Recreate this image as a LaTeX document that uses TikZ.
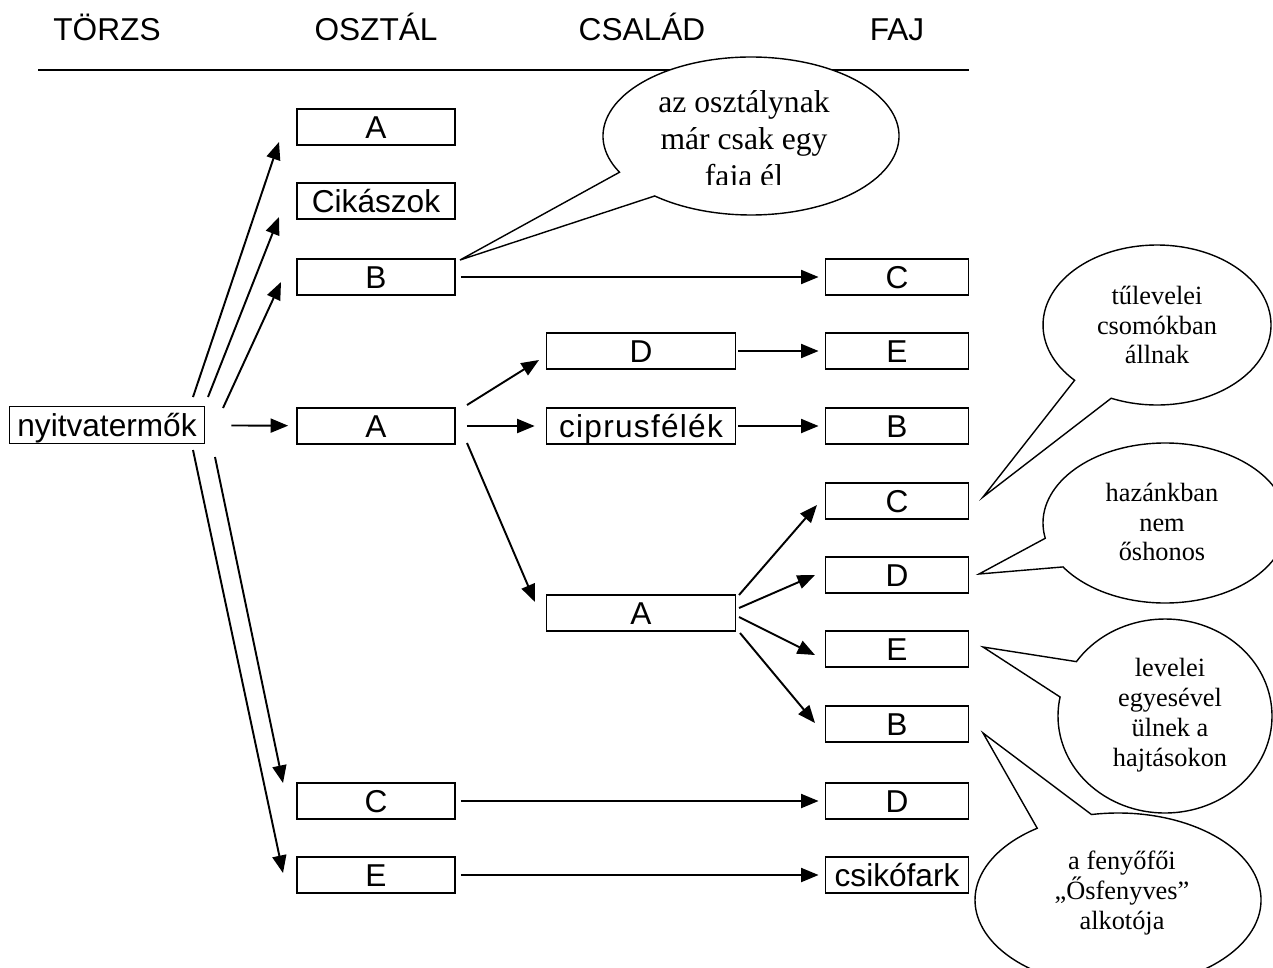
\documentclass[tikz,border=0pt]{standalone}
\usepackage{fontspec}
\setmainfont{Liberation Serif}
\setsansfont{Liberation Sans}
\usetikzlibrary{arrows.meta}

\tikzset{
  box/.style={draw, line width=1.1pt, inner sep=0pt, minimum height=0.72cm,
    text height=12.9pt, text depth=0pt,
    font=\sffamily\fontsize{18}{22}\selectfont},
  oszt/.style={box, minimum width=3.16cm},
  csal/.style={box, minimum width=3.78cm},
  faj/.style={box, minimum width=2.86cm},
  head/.style={anchor=base, font=\sffamily\fontsize{18}{22}\selectfont},
  bubble/.style={draw, fill=white, line width=0.8pt},
  note/.style={align=center, font=\fontsize{15}{17}\selectfont},
  arr/.style={->, line width=1.1pt},
}

\begin{document}
\begin{tikzpicture}[x=0.02cm, y=-0.02cm, >={Triangle[length=10pt,width=8pt]}]
  \useasboundingbox (0,0) rectangle (1273,967);

  % headers
  \node[head] (hTorzs) at (107,40) {TÖRZS};
  \node[head] (hOsztaly) at (376,40) {OSZTÁL};
  \node[head] (hCsalad) at (642,40) {CSALÁD};
  \node[head] (hFaj) at (897,40) {FAJ};
  \draw[line width=1.1pt] (38,70) -- (969,70);

  % torzs
  \node[box, minimum width=3.9cm, minimum height=0.74cm] (ny) at (107,425) {nyitvatermők};

  % osztalyok
  \node[oszt] (oA) at (376,127) {A};
  \node[oszt] (oCik) at (376,201) {Cikászok};
  \node[oszt] (oB) at (376,277) {B};
  \node[oszt] (oA2) at (376,426) {A};
  \node[oszt] (oC) at (376,801) {C};
  \node[oszt] (oE) at (376,875) {E};

  % csaladok
  \node[csal] (cD) at (641,351) {D};
  \node[csal] (cCip) at (641,426) {\addfontfeature{LetterSpace=4}ciprusfélék};
  \node[csal] (cA) at (641,613) {A};

  % fajok
  \node[faj] (fC) at (897,277) {C};
  \node[faj] (fE) at (897,351) {E};
  \node[faj] (fB) at (897,426) {B};
  \node[faj] (fC2) at (897,501) {C};
  \node[faj] (fD) at (897,575) {D};
  \node[faj] (fE2) at (897,649) {E};
  \node[faj] (fB2) at (897,724) {B};
  \node[faj] (fD2) at (897,801) {D};
  \node[faj] (fCsik) at (897,875) {csikófark};

  % arrow ends of the fans
  \coordinate (ny1) at (193,397);  \coordinate (oA-in) at (279,142);
  \coordinate (ny2) at (208,397);  \coordinate (oCik-in) at (279,217);
  \coordinate (ny3) at (223,408);  \coordinate (oB-in) at (281,282);
  \coordinate (ny5) at (215,457);  \coordinate (oC-in) at (283,783);
  \coordinate (ny6) at (193,450);  \coordinate (oE-in) at (283,873);
  \coordinate (oA2-1) at (467,405); \coordinate (cD-in) at (539,360);
  \coordinate (oA2-3) at (467,443); \coordinate (cA-in) at (535,602);
  \coordinate (cA-1) at (739,595); \coordinate (fC2-in) at (817,505);
  \coordinate (cA-2) at (739,608); \coordinate (fD-in) at (815,575);
  \coordinate (cA-3) at (739,617); \coordinate (fE2-in) at (815,655);
  \coordinate (cA-4) at (740,633); \coordinate (fB2-in) at (815,723);

  % arrows
  \draw[arr] (ny1) -- (oA-in);
  \draw[arr] (ny2) -- (oCik-in);
  \draw[arr] (ny3) -- (oB-in);
  \draw[arr, shorten <=14.7pt, shorten >=4.5pt] (ny) -- (oA2);
  \draw[arr] (ny5) -- (oC-in);
  \draw[arr] (ny6) -- (oE-in);
  \draw[arr, shorten <=2.8pt, shorten >=3.4pt] (oB) -- (fC);
  \draw[arr] (oA2-1) -- (cD-in);
  \draw[arr, shorten <=6.2pt, shorten >=6.2pt] (oA2) -- (cCip);
  \draw[arr] (oA2-3) -- (cA-in);
  \draw[arr, shorten <=1.1pt, shorten >=3.4pt] (cD) -- (fE);
  \draw[arr, shorten <=1.1pt, shorten >=3.4pt] (cCip) -- (fB);
  \draw[arr] (cA-1) -- (fC2-in);
  \draw[arr] (cA-2) -- (fD-in);
  \draw[arr] (cA-3) -- (fE2-in);
  \draw[arr] (cA-4) -- (fB2-in);
  \draw[arr, shorten <=2.8pt, shorten >=3.4pt] (oC) -- (fD2);
  \draw[arr, shorten <=2.8pt, shorten >=3.4pt] (oE) -- (fCsik);

  % callouts
  \coordinate (tip1) at (460,260);
  \coordinate (tip2) at (983,497);
  \coordinate (tip3) at (979,574);
  \coordinate (tip4) at (983,647);
  \coordinate (tip5) at (983,733);

  \draw[bubble] ([shift={(751,136)}]152.7:148 and 79)
    arc[start angle=152.7, end angle=490.6, x radius=148, y radius=79]
    -- (tip1) -- cycle;
  \begin{scope}
    \clip (600,50) rectangle (900,184);
    \node[align=center, font=\fontsize{18}{21}\selectfont] (n1) at (744,142)
      {az osztálynak\\már csak egy\\faja él};
  \end{scope}

  \draw[bubble] ([shift={(1157,325)}]136.3:114 and 80)
    arc[start angle=136.3, end angle=473.7, x radius=114, y radius=80]
    -- (tip2) -- cycle;
  \node[note] (n2) at (1157,325) {tűlevelei\\csomókban\\állnak};

  \draw[bubble] ([shift={(1165,523)}]169:122 and 80)
    arc[start angle=169, end angle=506.7, x radius=122, y radius=80]
    -- (tip3) -- cycle;
  \node[note] (n3) at (1162,522) {hazánkban\\nem\\őshonos};

  \draw[bubble] ([shift={(1165,716)}]214.1:107 and 97)
    arc[start angle=214.1, end angle=551.3, x radius=107, y radius=97]
    -- (tip4) -- cycle;
  \node[note] (n4) at (1170,715) {levelei\\egyesével\\ülnek a\\hajtásokon};

  \draw[bubble] ([shift={(1118,900)}]259.3:143 and 87)
    arc[start angle=259.3, end angle=595.6, x radius=143, y radius=87]
    -- (tip5) -- cycle;
  \node[note] (n5) at (1122,893) {a fenyőfői\\„Ősfenyves”\\alkotója};
\end{tikzpicture}
\end{document}
